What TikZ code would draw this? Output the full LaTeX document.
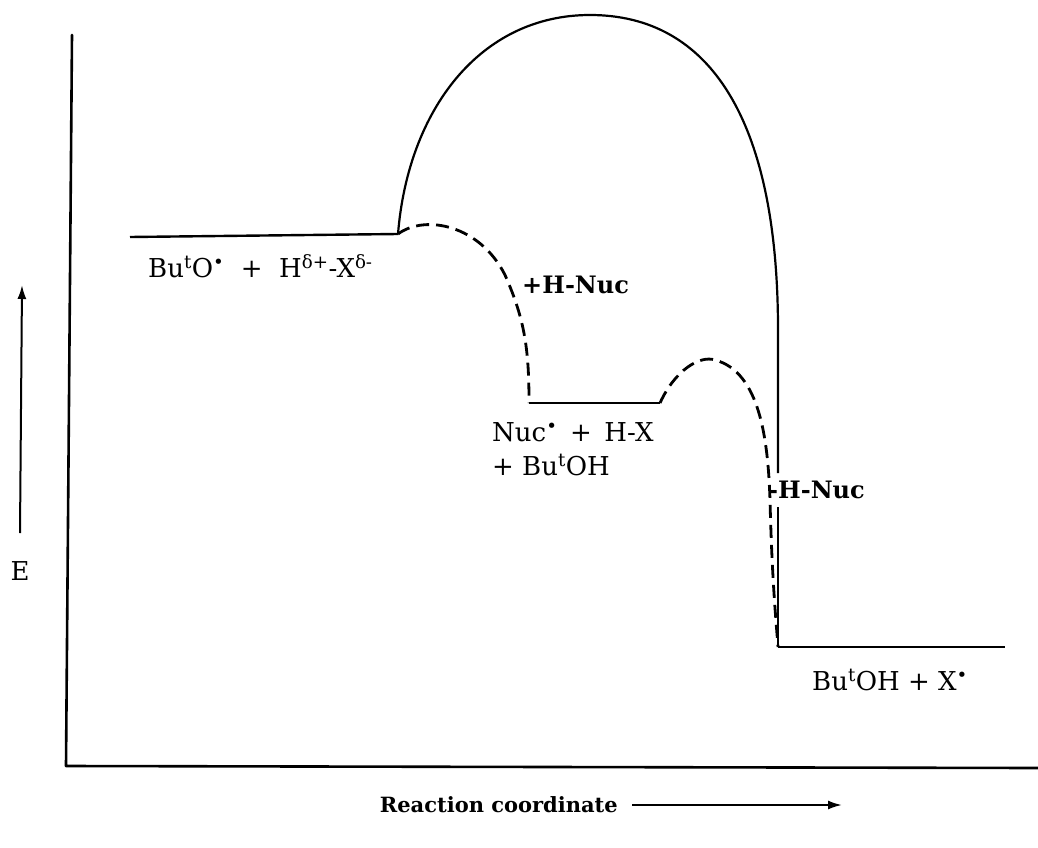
\documentclass[tikz,border=0pt]{standalone}
\usepackage{fontspec}
\setmainfont{DejaVu Serif}
\usetikzlibrary{arrows.meta}
\begin{document}
\begin{tikzpicture}[x=1pt,y=-1pt,
  axis/.style={line width=2.6pt,line cap=round,line join=round},
  level/.style={line width=2.4pt,line join=round},
  solidpath/.style={line width=2.2pt},
  dashpath/.style={line width=2.8pt,dash pattern=on 13pt off 7pt},
  lbl/.style={font=\fontsize{26}{31}\selectfont,inner sep=0pt},
  blbl/.style={font=\fontsize{24}{30}\selectfont\bfseries,inner sep=0pt},
  arr/.style={line width=2pt,-{Latex[length=14pt,width=9pt]}}]
\useasboundingbox (0,0) rectangle (1038,848);
% axes
\coordinate (ytop) at (72,35);
\coordinate (origin) at (66,766);
\coordinate (xend) at (1038,768);
\draw[axis] (ytop) -- (origin) -- (xend);
% E arrow
\coordinate (ea) at (20,533);
\coordinate (eb) at (22,285);
\draw[arr] (ea) -- (eb);
\node[lbl] (E) at (20,571) {E};
% reaction coordinate
\node[blbl,font=\fontsize{21}{26}\selectfont\bfseries,anchor=east] (rc) at (618,805) {Reaction coordinate};
\coordinate (ra) at (632,805);
\coordinate (rb) at (842,805);
\draw[arr] (ra) -- (rb);
% levels
\coordinate (l1a) at (130,237);
\coordinate (l1b) at (398,234);
\coordinate (l2a) at (529,403);
\coordinate (l2b) at (660,403);
\coordinate (l3a) at (778,647);
\coordinate (l3b) at (1005,647);
\draw[level] (l1a) -- (l1b);
\draw[level] (l2a) -- (l2b);
\draw[level] (l3a) -- (l3b);
% big solid barrier
\coordinate (top) at (590,15);
\coordinate (rs1) at (778,330);
\coordinate (gapa) at (778,473);
\coordinate (gapb) at (778,507);
\draw[solidpath] (l1b) .. controls (408,110) and (480,15) .. (top)
  .. controls (710,15) and (778,120) .. (rs1) -- (gapa);
\draw[solidpath] (gapb) -- (l3a);
% dashed barriers
\coordinate (d1) at (505,275);
\draw[dashpath] (l1b) .. controls (425,214) and (480,225) .. (d1)
  .. controls (525,320) and (529,350) .. (l2a);
\coordinate (p2) at (715,360);
\coordinate (d2) at (770,500);
\draw[dashpath] (l2b) .. controls (675,370) and (700,355) .. (p2)
  .. controls (760,372) and (768,440) .. (d2)
  .. controls (772,580) and (776,620) .. (l3a);
% labels
\node[lbl,anchor=west] (r) at (148,266) {Bu\textsuperscript{t}O\textsuperscript{•}\ \ +\ \ H\textsuperscript{δ+}-X\textsuperscript{δ-}};
\node[blbl,anchor=west] (hn1) at (522,285) {+H-Nuc};
\node[lbl,anchor=west] (i1) at (492,432) {Nuc\textsuperscript{•}\,\ +\,\ H-X};
\node[lbl,anchor=west] (i2) at (492,465) {+ Bu\textsuperscript{t}OH};
\node[blbl,anchor=west] (hn2) at (768,490) {-H-Nuc};
\node[lbl,anchor=west] (pr) at (812,680) {Bu\textsuperscript{t}OH + X\textsuperscript{•}};
\end{tikzpicture}
\end{document}
